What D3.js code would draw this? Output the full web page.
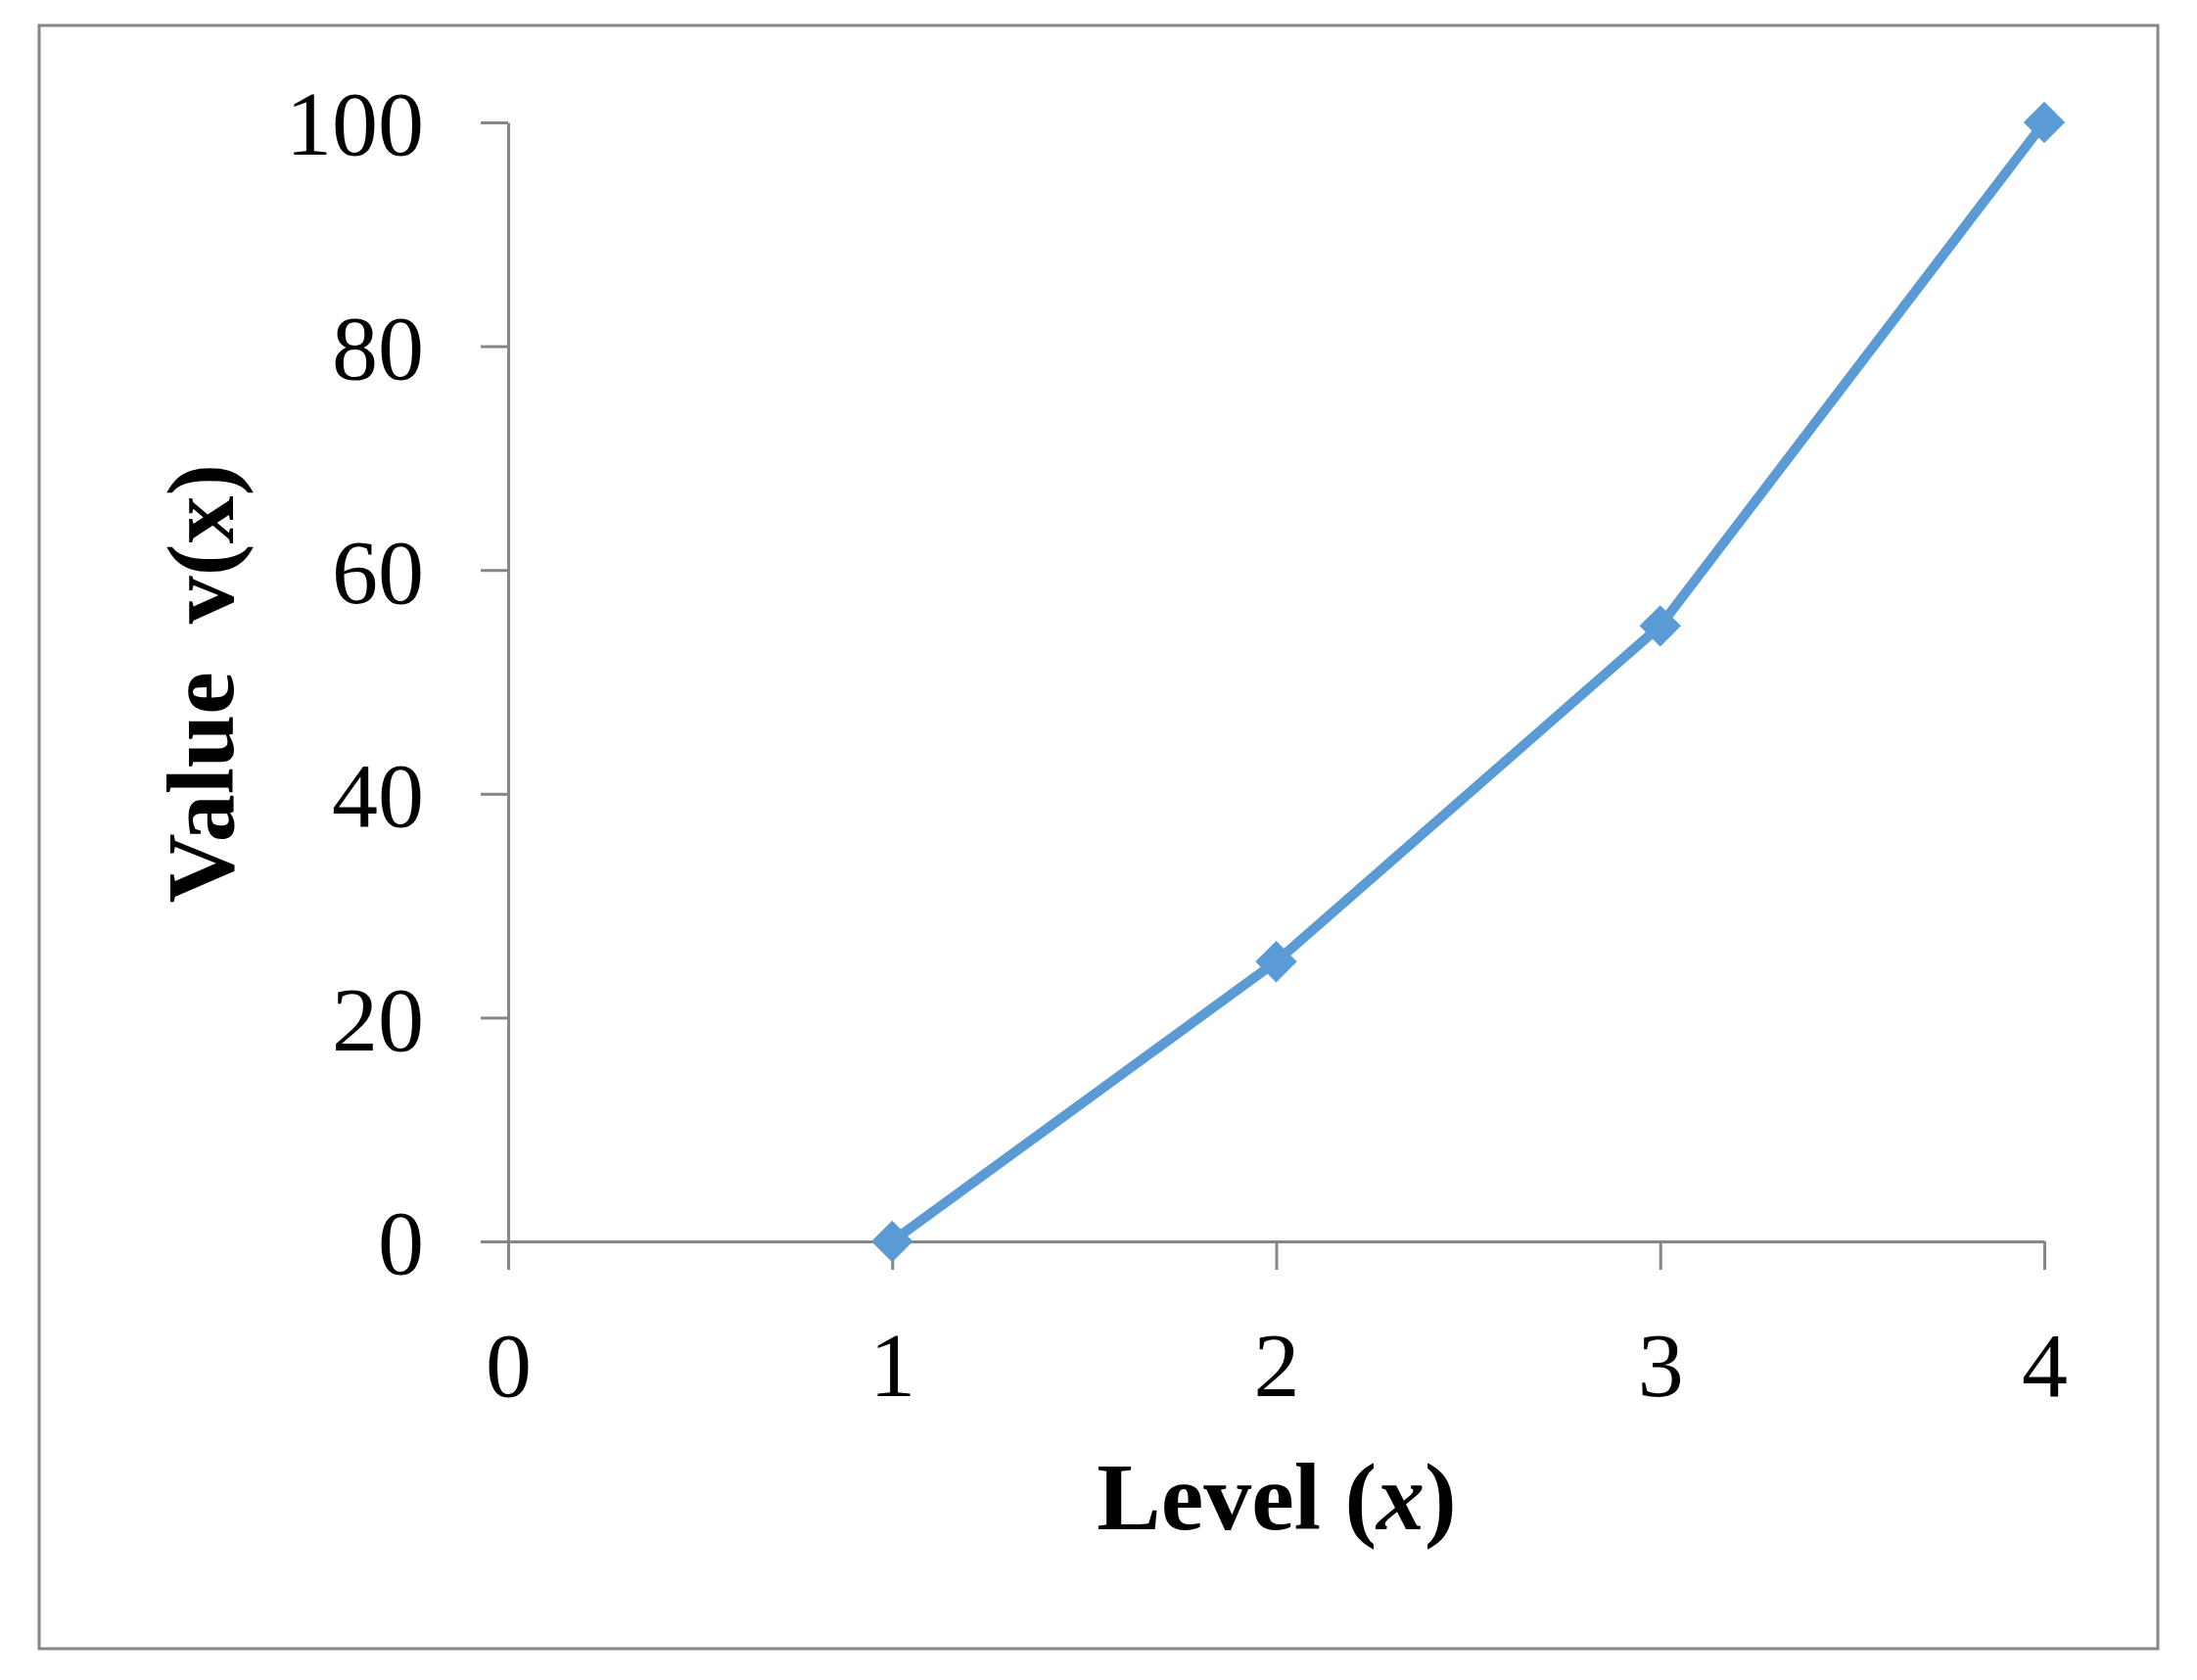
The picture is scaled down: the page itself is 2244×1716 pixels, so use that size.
<!DOCTYPE html>
<html><head><meta charset="utf-8">
<script src="https://cdn.jsdelivr.net/npm/d3@7"></script>
<style>body{margin:0;background:#fff}</style></head>
<body><svg id="c" width="2244" height="1716"></svg>
<script>
const levels=[1,2,3,4];
const values=[0,25,55,100];
const xTicks=[0,1,2,3,4];
const yTicks=[0,20,40,60,80,100];
const svg=d3.select("#c");
const F="'Liberation Serif','Times New Roman',serif";
svg.append("rect").attr("x",40).attr("y",26).attr("width",2164).attr("height",1658).attr("fill","#fff").attr("stroke","#868686").attr("stroke-width",3);
const x=d3.scaleLinear().domain([0,4]).range([519,2088]);
const y=d3.scaleLinear().domain([0,100]).range([1268,125]);
const ya=svg.append("g").attr("transform","translate(519,0)").call(d3.axisLeft(y).tickValues(yTicks).tickFormat(d3.format("d")).tickSize(28).tickPadding(58).tickSizeOuter(0));
const xa=svg.append("g").attr("transform","translate(0,1268)").call(d3.axisBottom(x).tickValues(xTicks).tickFormat(d3.format("d")).tickSize(29).tickPadding(62).tickSizeOuter(0));
[ya,xa].forEach(a=>{a.selectAll("path,line").attr("stroke","#868686").attr("stroke-width",3);
a.selectAll("text").attr("font-family",F).attr("font-size",94).attr("fill","#000");});
ya.selectAll("text").attr("dy","0.35em");
const pts=levels.map((l,i)=>[x(l),y(values[i])]);
svg.append("path").attr("d",d3.line()(pts)).attr("fill","none").attr("stroke","#5B9BD5").attr("stroke-width",10);
svg.selectAll(".m").data(pts).enter().append("path")
 .attr("transform",d=>`translate(${d[0]},${d[1]}) rotate(45)`).attr("d","M-15,-15H15V15H-15Z").attr("fill","#5B9BD5");
svg.append("text").attr("x",1304).attr("y",1562).attr("text-anchor","middle").attr("font-family",F).attr("font-size",98).attr("font-weight","bold")
 .html("Level (<tspan font-style='italic'>x</tspan>)");
svg.append("text").attr("transform","translate(238,698) rotate(-90)").attr("text-anchor","middle").attr("font-family",F).attr("font-size",98).attr("font-weight","bold")
 .attr("xml:space","preserve").text("Value  v(x)");
</script></body></html>
